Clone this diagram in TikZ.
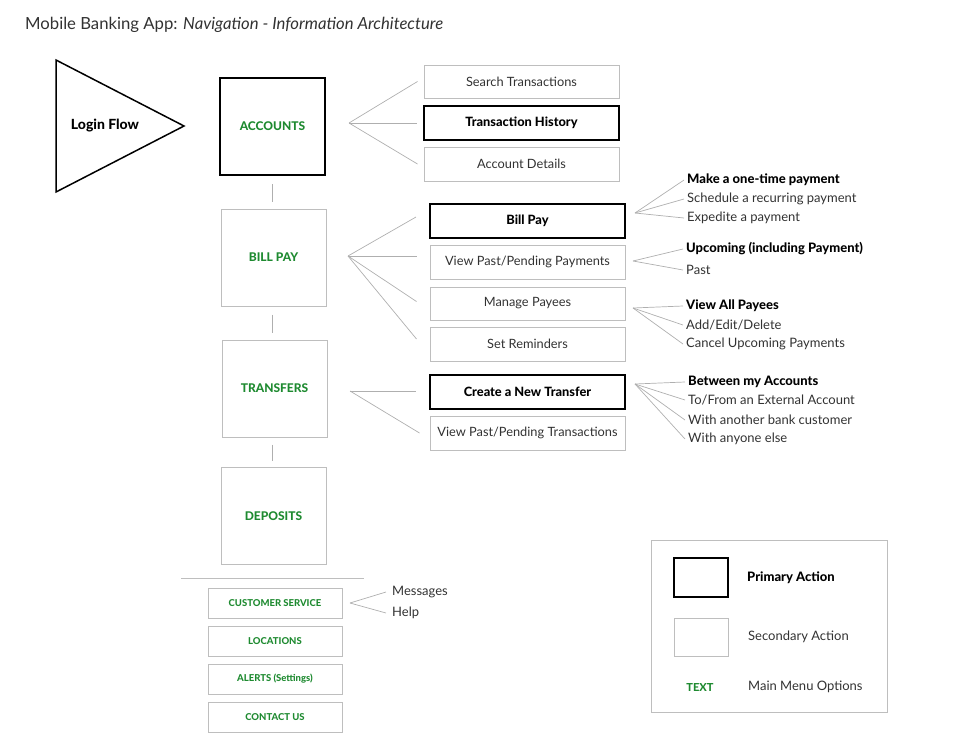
\documentclass[tikz,border=0pt]{standalone}
\usepackage{fontspec}
\setmainfont{Lato}[BoldFont={Lato Heavy}]
\definecolor{menugreen}{RGB}{30,138,48}
\definecolor{boxgray}{RGB}{190,190,190}
\definecolor{linegray}{RGB}{175,175,175}
\definecolor{textgray}{RGB}{50,50,50}
\begin{document}
\begin{tikzpicture}[x=1pt,y=-1pt,
mainbox/.style={draw=boxgray,line width=1pt,minimum width=105pt,minimum height=97pt,text=menugreen,font=\bfseries\fontsize{12}{14}\selectfont},
primary/.style={draw=black,line width=2pt},
sub/.style={draw=boxgray,line width=1pt,minimum width=195pt,minimum height=34pt,text=textgray,font=\fontsize{12.8}{15}\selectfont},
subprime/.style={sub,draw=black,line width=2pt,text=black,font=\bfseries\fontsize{12.8}{15}\selectfont},
item/.style={anchor=west,inner sep=0pt,text=textgray,font=\fontsize{13}{15}\selectfont},
itemhead/.style={item,text=black,font=\bfseries\fontsize{13}{15}\selectfont},
foot/.style={draw=boxgray,line width=1pt,minimum width=134pt,minimum height=30pt,text=menugreen,font=\bfseries\fontsize{9.5}{11}\selectfont},
link/.style={draw=linegray,line width=0.7pt}]
\useasboundingbox (0,0) rectangle (980,750);
\node (title) at (25,25) [anchor=west,inner sep=0pt,text=textgray,font=\fontsize{16.7}{19}\selectfont] {Mobile Banking App: \textit{Navigation - Information Architecture}};
\draw[line width=1.5pt,line join=miter] (56,60) -- (184,126) -- (56,192) -- cycle;
\node (login) at (105,126) [font=\bfseries\fontsize{14}{16}\selectfont] {Login Flow};
\node (acc) at (272.5,126.5) [mainbox,primary] {ACCOUNTS};
\node (bill) at (273.5,257.5) [mainbox] {BILL PAY};
\node (trans) at (274.5,388.5) [mainbox] {TRANSFERS};
\node (dep) at (273.5,516) [mainbox] {DEPOSITS};
\draw[link] ([yshift=-8pt]acc.south) -- ([yshift=7pt]acc.south |- bill.north);
\draw[link] ([yshift=-8pt]acc.south |- bill.south) -- ([yshift=7pt]acc.south |- trans.north);
\draw[link] ([yshift=-7pt]acc.south |- trans.south) -- ([yshift=6pt]acc.south |- dep.north);
\node (srch) at (521.5,81.5) [sub,minimum height=33pt] {Search Transactions};
\node (hist) at (521.5,123) [subprime] {Transaction History};
\node (accdet) at (521.5,164) [sub] {Account Details};
\coordinate (accfan) at (349,123);
\foreach \n in {srch,hist,accdet} \draw[link] (accfan) -- ([xshift=-6pt]\n.west);
\node (bp) at (527.5,221) [subprime] {Bill Pay};
\node (vpp) at (527.5,262) [sub] {View Past/Pending Payments};
\node (mp) at (527.5,303.5) [sub,minimum height=33pt] {Manage Payees};
\node (rem) at (527.5,344) [sub] {Set Reminders};
\coordinate (billfan) at (348,256);
\draw[link] (billfan) -- ([xshift=-13pt,yshift=4pt]bp.west);
\draw[link] (billfan) -- ([xshift=-13pt,yshift=6pt]vpp.west);
\draw[link] (billfan) -- ([xshift=-13pt,yshift=2pt]mp.west);
\draw[link] (billfan) -- ([xshift=-13pt,yshift=5pt]rem.west);
\node (nt) at (527.5,392) [subprime] {Create a New Transfer};
\node (vpt) at (527.5,433) [sub] {View Past/Pending Transactions};
\coordinate (transfan) at (350,391);
\draw[link] (transfan) -- ([xshift=-13pt,yshift=1pt]nt.west);
\draw[link] (transfan) -- ([xshift=-10pt]vpt.west);
\node (i1) at (687,180) [itemhead] {Make a one-time payment};
\node (i2) at (687,199) [item] {Schedule a recurring payment};
\node (i3) at (687,218) [item] {Expedite a payment};
\coordinate (bpfan) at (635,213);
\foreach \n in {i1,i2,i3} \draw[link] (bpfan) -- ([xshift=-3pt]\n.west);
\node (u1) at (686,249) [itemhead] {Upcoming (including Payment)};
\node (u2) at (686,270) [item] {Past};
\coordinate (vppfan) at (633,261);
\foreach \n in {u1,u2} \draw[link] (vppfan) -- ([xshift=-3pt]\n.west);
\node (p1) at (686,306) [itemhead] {View All Payees};
\node (p2) at (686,325) [item] {Add/Edit/Delete};
\node (p3) at (686,344) [item] {Cancel Upcoming Payments};
\coordinate (mpfan) at (633,308);
\foreach \n in {p1,p2,p3} \draw[link] (mpfan) -- ([xshift=-3pt]\n.west);
\node (t1) at (688,382) [itemhead] {Between my Accounts};
\node (t2) at (688,400) [item] {To/From an External Account};
\node (t3) at (688,420) [item] {With another bank customer};
\node (t4) at (688,439) [item] {With anyone else};
\coordinate (ntfan) at (635,384);
\foreach \n in {t1,t2,t3,t4} \draw[link] (ntfan) -- ([xshift=-3pt]\n.west);
\draw[draw=boxgray,line width=1pt] (181,578) -- (364,578);
\node (cs) at (275,603) [foot] {CUSTOMER SERVICE};
\node (loc) at (275,641) [foot] {LOCATIONS};
\node (alr) at (275,679) [foot] {ALERTS (Settings)};
\node (con) at (275,717) [foot] {CONTACT US};
\node (msg) at (392,592) [item] {Messages};
\node (hlp) at (392,613) [item] {Help};
\coordinate (csfan) at (350,603);
\foreach \n in {msg,hlp} \draw[link] (csfan) -- ([xshift=-6pt]\n.west);
\node (leg) at (769,626) [draw=boxgray,line width=1pt,minimum width=236pt,minimum height=172pt] {};
\node (legp) at (701,577.5) [draw=black,line width=2pt,minimum width=54pt,minimum height=39pt] {};
\node (legs) at (701,637) [draw=boxgray,line width=1pt,minimum width=54pt,minimum height=38pt] {};
\node (legt) at (700,687) [text=menugreen,font=\bfseries\fontsize{11}{13}\selectfont] {TEXT};
\node (lp) at (747,578) [itemhead] {Primary Action};
\node (ls) at (748,637) [item] {Secondary Action};
\node (lt) at (748,687) [item] {Main Menu Options};
\end{tikzpicture}
\end{document}
